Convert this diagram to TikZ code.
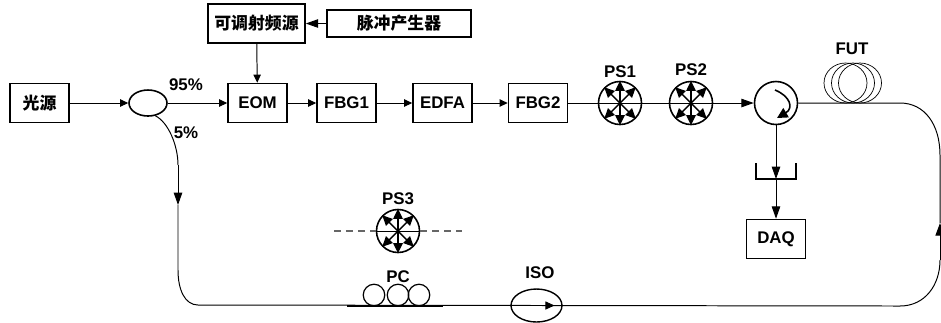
\documentclass[tikz,border=0pt]{standalone}
\usepackage{fontspec}
\setmainfont{Liberation Sans}
\newfontfamily\cjk{Noto Sans CJK SC}
\usetikzlibrary{arrows.meta,shapes.geometric}
\tikzset{
  blockbox/.style={draw, line width=0.45pt, minimum width=0.59cm, minimum height=0.39cm, inner sep=0pt, font=\fontsize{4.8}{5}\selectfont\bfseries},
  tag/.style={inner sep=0pt, font=\fontsize{4.8}{5}\selectfont\bfseries},
  fibre/.style={line width=0.28pt},
  tipped/.style={fibre, -{Stealth[inset=0pt,length=2.3pt,width=2.1pt]}},
  bigtip/.style={fibre, -{Stealth[inset=0pt,length=3.5pt,width=2.4pt]}},
  ring/.style={draw, circle, line width=0.45pt, minimum size=0.43cm, inner sep=0pt},
  coil/.style={draw, ellipse, line width=0.2pt, minimum width=0.43cm, minimum height=0.40cm, inner sep=0pt},
  pcloop/.style={draw, circle, line width=0.35pt, minimum size=0.215cm, inner sep=0pt},
  spoke/.style={line width=0.4pt, -{Stealth[inset=0pt,length=2.9pt,width=2.7pt]}},
}
\begin{document}
\begin{tikzpicture}
  \useasboundingbox (0,0) rectangle (9.41,-3.22);
  % top row
  \node[blockbox] (laser) at (0.395,-1.03) {\cjk 光源};
  \node[draw, ellipse, line width=0.45pt, minimum width=0.38cm, minimum height=0.26cm, inner sep=0pt] (coupler) at (1.48,-1.03) {};
  \node[blockbox] (eom) at (2.575,-1.03) {EOM};
  \node[blockbox] (fbgone) at (3.465,-1.03) {FBG1};
  \node[blockbox] (edfa) at (4.425,-1.03) {EDFA};
  \node[blockbox] (fbgtwo) at (5.38,-1.03) {FBG2};
  \node[blockbox, minimum width=0.97cm] (rf) at (2.565,-0.235) {\cjk 可调射频源};
  \node[blockbox, minimum width=1.44cm, minimum height=0.27cm] (pulse) at (3.99,-0.235) {\cjk 脉冲产生器};
  \node[ring] (psone) at (6.20,-1.03) {};
  \node[ring] (pstwo) at (6.91,-1.03) {};
  \node[ring] (circ) at (7.76,-1.03) {};
  \node[ring] (psthree) at (3.98,-2.31) {};
  \node[blockbox] (daq) at (7.76,-2.39) {DAQ};
  % labels
  \node[tag] at (1.86,-0.85) {95\%};
  \node[tag] at (1.86,-1.33) {5\%};
  \node[tag] at (6.20,-0.72) {PS1};
  \node[tag] at (6.91,-0.70) {PS2};
  \node[tag] at (8.52,-0.49) {FUT};
  \node[tag] at (3.98,-1.99) {PS3};
  \node[tag] at (3.98,-2.77) {PC};
  \node[tag] at (5.40,-2.73) {ISO};
  % connectors
  \draw[tipped] (laser) -- (coupler);
  \draw[tipped] (coupler) -- (eom);
  \draw[tipped] (eom) -- (fbgone);
  \draw[tipped] (fbgone) -- (edfa);
  \draw[tipped] (edfa) -- (fbgtwo);
  \draw[bigtip] (pulse) -- (rf);
  \draw[tipped] (rf) -- (eom);
  \draw[fibre] (fbgtwo) -- (psone);
  \draw[fibre] (psone.west) -- (psone.east) -- (pstwo.west) -- (pstwo.east);
  \draw[bigtip] (pstwo) -- (circ);
  % scramblers
  \foreach \n in {psone,pstwo,psthree}{
    \foreach \a in {45,90,135,225,270,315}{
      \draw[spoke] (\n.center) -- (\n.\a);
    }
  }
  % circulator
  \draw[line width=0.45pt, -{Stealth[inset=0pt,length=3pt,width=3pt]}] (7.75,-0.90) .. controls (7.90,-0.96) and (7.94,-1.08) .. (7.77,-1.18);
  % fibre under test
  \foreach \x/\name in {8.455/coila,8.53/coilb,8.60/coilc}{
    \node[coil] (\name) at (\x,-0.83) {};
  }
  \coordinate (rightA) at (9.00,-1.03);
  \coordinate (rightB) at (9.40,-1.55);
  \coordinate (rightC) at (9.40,-2.23);
  \coordinate (rightD) at (9.40,-2.60);
  \coordinate (rightE) at (9.00,-3.06);
  \draw[fibre] (circ) -- (rightA) .. controls (9.25,-1.03) and (9.40,-1.25) .. (rightB) -- (rightC);
  \draw[fibre, -{Stealth[inset=0pt,length=3.6pt,width=2.6pt]}] (rightD) -- (rightC);
  % detector
  \coordinate (bucketL) at (7.56,-1.63);
  \coordinate (bucketR) at (7.96,-1.63);
  \coordinate (bucketB) at (7.76,-1.79);
  \draw[line width=0.35pt] (bucketL) |- (bucketB) -| (bucketR);
  \draw[bigtip] (circ) -- (bucketB);
  \draw[bigtip] (bucketB) -- (daq);
  % lower arm
  \coordinate (downBend) at (1.78,-1.65);
  \coordinate (downTip) at (1.78,-2.05);
  \coordinate (leftA) at (1.78,-2.70);
  \coordinate (leftB) at (1.98,-3.05);
  \draw[fibre] (coupler.-60) .. controls (1.68,-1.22) and (1.78,-1.45) .. (downBend);
  \draw[bigtip] (downBend) -- (downTip);
  \draw[fibre] (downTip) -- (leftA) .. controls (1.78,-2.90) and (1.85,-3.05) .. (leftB) -- (rightE);
  \draw[fibre] (rightE) .. controls (9.25,-3.06) and (9.40,-2.85) .. (rightD);
  % polarisation controller
  \foreach \x/\name in {3.74/pca,3.98/pcb,4.19/pcc}{
    \node[pcloop] (\name) at (\x,-2.95) {};
  }
  \coordinate (pcL) at (3.47,-3.06);
  \coordinate (pcR) at (4.43,-3.06);
  \draw[line width=0.45pt] (pcL) -- (pcR);
  % isolator
  \node[draw, ellipse, line width=0.4pt, minimum width=0.51cm, minimum height=0.33cm, inner sep=0pt] (iso) at (5.365,-3.055) {};
  \draw[fibre, -{Stealth[inset=0pt,length=2.6pt,width=2.3pt]}] (iso.center) ++(-0.15,0) -- ++(0.33,0);
  % dashes of PS3
  \coordinate (dashL) at (3.34,-2.31);
  \coordinate (dashR) at (4.62,-2.31);
  \draw[line width=0.3pt, gray!80!black, dash pattern=on 2pt off 1.4pt] (dashL) -- (psthree.west);
  \draw[line width=0.3pt, gray!80!black, dash pattern=on 2pt off 1.4pt] (psthree.east) -- (dashR);
  \draw[fibre] (psthree.west) -- (psthree.east);
\end{tikzpicture}
\end{document}
